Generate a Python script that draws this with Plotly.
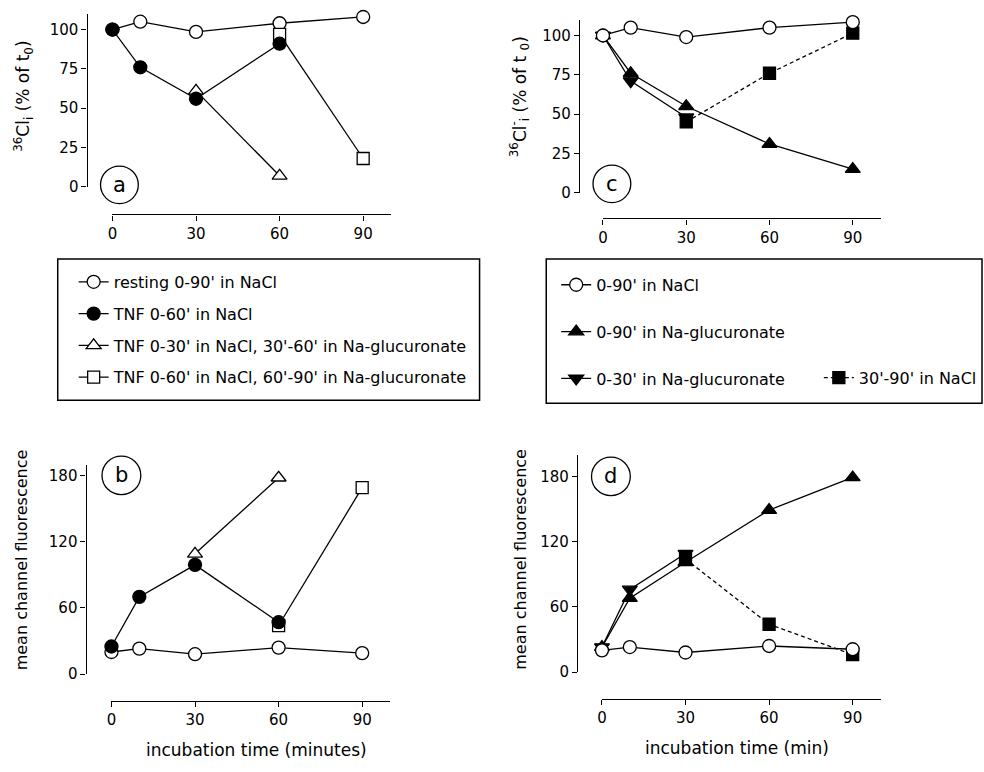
import plotly.graph_objects as go

# ---------------- data ----------------
time_all = [0, 10, 30, 60, 90]
time_tnf = [0, 10, 30, 60]
time_30_60 = [30, 60]
time_60_90 = [60, 90]
time_0_30 = [0, 10, 30]
time_30_90 = [30, 60, 90]

# panel a: 36Cl_i (% of t0)
a_resting = [100, 105, 98.5, 104, 108]
a_tnf = [100, 76, 56, 91]
a_tnf_gluc30 = [61, 7]
a_tnf_gluc60 = [97, 18]

# panel b: mean channel fluorescence
b_resting = [20, 23, 18, 24, 19]
b_tnf = [25, 70, 99, 47]
b_tnf_gluc30 = [109, 178]
b_tnf_gluc60 = [44, 169]

# panel c: 36Cl-_i (% of t0)
c_nacl = [100, 105, 99, 105, 108.5]
c_gluc = [100, 76, 55, 31, 15]
c_gluc30 = [100, 71, 48]
c_nacl30_90 = [45, 76, 101.5]

# panel d: mean channel fluorescence
d_nacl = [20, 23, 18, 24, 21]
d_gluc = [23, 68, 101, 149, 179]
d_gluc30 = [23, 76, 109]
d_nacl30_90 = [104, 44, 16]

x_ticks = [0, 30, 60, 90]
y_ticks_cl = [0, 25, 50, 75, 100]
y_ticks_fl = [0, 60, 120, 180]

labels_left = ["resting 0-90' in NaCl", "TNF 0-60' in NaCl",
               "TNF 0-30' in NaCl, 30'-60' in Na-glucuronate",
               "TNF 0-60' in NaCl, 60'-90' in Na-glucuronate"]
labels_right = ["0-90' in NaCl", "0-90' in Na-glucuronate",
                "0-30' in Na-glucuronate", "30'-90' in NaCl"]

# ---------------- layout helpers ----------------
W, H = 984, 772
FONT = "DejaVu Sans"


def fx(px):
    return px / W


def fy(py):
    return 1 - py / H


fig = go.Figure()

LW = 1.3
MS = 13


def add(x, y, sym, fill, name, xa, ya, legend=None, rank=1, dash="solid", show=False, size=MS):
    fig.add_trace(go.Scatter(
        x=x, y=y, mode="lines+markers", name=name,
        line=dict(color="black", width=LW, dash=dash),
        marker=dict(symbol=sym, size=size, color=fill, line=dict(color="black", width=1.3)),
        xaxis=xa, yaxis=ya, cliponaxis=False,
        showlegend=show, legend=legend if legend else "legend",
        legendgroup=name + (legend or ""), legendrank=rank,
    ))


# panel a (x, y)
add(time_all, a_resting, "circle", "white", labels_left[0], "x", "y", "legend", 1, show=True)
add(time_30_60, a_tnf_gluc30, "triangle-up", "white", labels_left[2], "x", "y", "legend", 3, show=True)
add(time_60_90, a_tnf_gluc60, "square", "white", labels_left[3], "x", "y", "legend", 4, show=True, size=12)
add(time_tnf, a_tnf, "circle", "black", labels_left[1], "x", "y", "legend", 2, show=True)

# panel b (x2, y2)
add(time_all, b_resting, "circle", "white", labels_left[0], "x2", "y2")
add(time_30_60, b_tnf_gluc30, "triangle-up", "white", labels_left[2], "x2", "y2")
add(time_60_90, b_tnf_gluc60, "square", "white", labels_left[3], "x2", "y2", size=12)
add(time_tnf, b_tnf, "circle", "black", labels_left[1], "x2", "y2")

# panel c (x3, y3)
add(time_0_30, c_gluc30, "triangle-down", "black", labels_right[2], "x3", "y3", "legend2", 3, show=True)
add(time_all, c_gluc, "triangle-up", "black", labels_right[1], "x3", "y3", "legend2", 2, show=True)
add(time_30_90, c_nacl30_90, "square", "black", labels_right[3], "x3", "y3", "legend3", 4,
    dash="4px,3px", show=True, size=12)
add(time_all, c_nacl, "circle", "white", labels_right[0], "x3", "y3", "legend2", 1, show=True)

# panel d (x4, y4)
add(time_0_30, d_gluc30, "triangle-down", "black", labels_right[2], "x4", "y4")
add(time_all, d_gluc, "triangle-up", "black", labels_right[1], "x4", "y4")
add(time_30_90, d_nacl30_90, "square", "black", labels_right[3], "x4", "y4", dash="4px,3px", size=12)
add(time_all, d_nacl, "circle", "white", labels_right[0], "x4", "y4")

tickfont = dict(family=FONT, size=15, color="black")


def xaxis(dom, line_y):
    return dict(domain=[fx(dom[0]), fx(dom[1])], range=[0, 100], anchor="free", position=fy(line_y),
                tickvals=x_ticks, ticks="outside", ticklen=5, tickwidth=1.3, tickcolor="black",
                showline=True, linecolor="black", linewidth=1.3, showgrid=False, zeroline=False,
                tickfont=tickfont)


def yaxis(dom_top, dom_bot, rng, line_x, tv):
    return dict(domain=[fy(dom_bot), fy(dom_top)], range=rng, anchor="free", position=fx(line_x),
                tickvals=tv, ticks="outside", ticklen=5, tickwidth=1.3, tickcolor="black",
                showline=True, linecolor="black", linewidth=1.3, showgrid=False, zeroline=False,
                tickfont=tickfont)


shapes = []
annotations = []


def circle_label(cx, cy, r, txt):
    shapes.append(dict(type="circle", xref="paper", yref="paper",
                       x0=fx(cx - r), x1=fx(cx + r), y0=fy(cy + r), y1=fy(cy - r),
                       line=dict(color="black", width=1.3)))
    annotations.append(dict(text=txt, x=fx(cx), y=fy(cy), xref="paper", yref="paper",
                            showarrow=False, xanchor="center", yanchor="middle",
                            font=dict(family=FONT, size=21, color="black")))


circle_label(115, 187, 19, "a")
circle_label(117, 481, 19.5, "b")
circle_label(610, 186, 19, "c")
circle_label(609, 482, 19.5, "d")


def text(t, x, y, size, angle=0):
    annotations.append(dict(text=t, x=fx(x), y=fy(y), xref="paper", yref="paper",
                            showarrow=False, xanchor="center", yanchor="middle", textangle=angle,
                            font=dict(family=FONT, size=size, color="black")))


text("<sup>36</sup>Cl<sub>i</sub> (% of t<sub>0</sub>)", 19, 97, 17, -90)
text("<sup>36</sup>Cl<sup>-</sup><sub>i</sub> (% of t <sub>0</sub>)", 518, 98, 17, -90)
text("mean channel fluorescence", 16, 566, 16, -90)
text("mean channel fluorescence", 518, 566, 16, -90)
text("incubation time (minutes)", 253, 759, 17)
text("incubation time (min)", 736, 757, 17)

# legend boxes
shapes.append(dict(type="rect", xref="paper", yref="paper", x0=fx(53), x1=fx(477), y0=fy(405), y1=fy(262),
                   line=dict(color="black", width=1.5)))
shapes.append(dict(type="rect", xref="paper", yref="paper", x0=fx(544), x1=fx(982), y0=fy(408), y1=fy(262),
                   line=dict(color="black", width=1.5)))

legfont = dict(family=FONT, size=16, color="black")

fig.update_layout(
    width=W, height=H,
    margin=dict(l=0, r=0, t=0, b=0),
    paper_bgcolor="white", plot_bgcolor="white",
    xaxis=xaxis((108, 388), 217),
    yaxis=yaxis(14, 189, [0, 110], 82, y_ticks_cl),
    xaxis2=xaxis((107, 387), 709),
    yaxis2=yaxis(470, 682, [0, 190], 81, y_ticks_fl),
    xaxis3=xaxis((601, 880), 221),
    yaxis3=yaxis(20, 195, [0, 110], 577, y_ticks_cl),
    xaxis4=xaxis((600, 880), 707),
    yaxis4=yaxis(460, 680, [0, 200], 575, y_ticks_fl),
    shapes=shapes,
    annotations=annotations,
    legend=dict(x=fx(69), y=fy(268), xanchor="left", yanchor="top", font=legfont,
                traceorder="grouped", tracegroupgap=8, bgcolor="rgba(0,0,0,0)", borderwidth=0),
    legend2=dict(x=fx(554), y=fy(271), xanchor="left", yanchor="top", font=legfont,
                 traceorder="grouped", tracegroupgap=23, bgcolor="rgba(0,0,0,0)", borderwidth=0),
    legend3=dict(x=fx(818), y=fy(365), xanchor="left", yanchor="top", font=legfont,
                 traceorder="grouped", bgcolor="rgba(0,0,0,0)", borderwidth=0),
    showlegend=True,
)

fig.write_html("out.html", config={"displayModeBar": False},
               post_script="document.body.style.margin='0';document.body.style.overflow='hidden';")
